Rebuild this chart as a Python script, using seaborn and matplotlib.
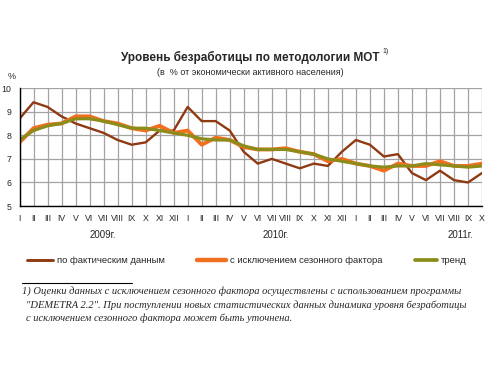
import pandas as pd
import matplotlib
matplotlib.use("Agg")
import matplotlib.pyplot as plt
import seaborn as sns

roman = ['I', 'II', 'III', 'IV', 'V', 'VI', 'VII', 'VIII', 'IX', 'X', 'XI', 'XII']
month_labels = roman * 2 + roman[:10]
years = ['2009г.', '2010г.', '2011г.']

actual = [8.7, 9.4, 9.2, 8.8, 8.5, 8.3, 8.1, 7.8, 7.6, 7.7, 8.2, 8.2,
          9.2, 8.6, 8.6, 8.2, 7.3, 6.8, 7.0, 6.8, 6.6, 6.8, 6.7, 7.3,
          7.8, 7.6, 7.1, 7.2, 6.4, 6.1, 6.5, 6.1, 6.0, 6.4]
seasonal = [7.7, 8.3, 8.45, 8.5, 8.8, 8.8, 8.6, 8.5, 8.3, 8.2, 8.4, 8.1,
            8.2, 7.6, 7.9, 7.8, 7.5, 7.4, 7.4, 7.45, 7.3, 7.2, 6.9, 7.0,
            6.8, 6.7, 6.5, 6.8, 6.7, 6.7, 6.9, 6.7, 6.7, 6.8]
trend = [7.8, 8.2, 8.4, 8.5, 8.7, 8.7, 8.6, 8.45, 8.3, 8.3, 8.2, 8.1,
         8.0, 7.85, 7.8, 7.8, 7.55, 7.4, 7.4, 7.4, 7.3, 7.2, 7.0, 6.9,
         6.8, 6.7, 6.65, 6.7, 6.7, 6.8, 6.75, 6.7, 6.65, 6.7]

names = ['по фактическим данным', 'с исключением сезонного фактора', 'тренд']
colors = ['#8f3a12', '#f07020', '#8c8c1a']
widths = [1.7, 2.8, 2.3]

df = pd.DataFrame({'idx': list(range(len(actual))) * 3,
                   'value': actual + seasonal + trend,
                   'series': [names[0]] * len(actual) + [names[1]] * len(seasonal) + [names[2]] * len(trend)})

sns.set_style("white")
plt.rcParams['font.family'] = ['Liberation Sans', 'DejaVu Sans']

fig = plt.figure(figsize=(5, 3.7), dpi=100)
ax = fig.add_axes([0.039, 0.443, 0.925, 0.319])

for name, c, w in zip(names, colors, widths):
    sub = df[df['series'] == name]
    sns.lineplot(data=sub, x='idx', y='value', ax=ax, color=c, linewidth=w, legend=False)

ax.set_xlim(0, len(actual) - 1)
ax.set_ylim(5, 10)
ax.set_xticks(range(len(actual)))
ax.set_xticklabels(month_labels, fontsize=6.3)
ax.set_yticks(range(5, 11))
ax.set_yticklabels([str(v) for v in range(5, 11)], fontsize=6.3)
ax.set_xlabel('')
ax.set_ylabel('')
ax.grid(True, color='#a3a3a3', linewidth=0.9)
for s in ['top', 'right']:
    ax.spines[s].set_visible(False)
for s in ['left', 'bottom']:
    ax.spines[s].set_color('black')
    ax.spines[s].set_linewidth(1.0)
ax.tick_params(axis='both', length=3, width=0.8, color='black', pad=3)

fig.text(0.5, 0.845, 'Уровень безработицы по методологии МОТ', ha='center', va='center',
         fontsize=8.5, fontweight='bold')
fig.text(0.765, 0.862, '1)', ha='left', va='center', fontsize=5)
fig.text(0.5, 0.805, '(в  % от экономически активного населения)', ha='center', va='center', fontsize=6.5)
fig.text(0.024, 0.792, '%', ha='center', va='center', fontsize=6.5)

for yr, xp in zip(years, [0.206, 0.552, 0.92]):
    fig.text(xp, 0.365, yr, ha='center', va='center', fontsize=7)

leg_pos = [(0.054, 0.106), (0.394, 0.452), (0.83, 0.874)]
for (x0, x1), name, c, w in zip(leg_pos, names, colors, widths):
    fig.add_artist(plt.Line2D([x0, x1], [0.297, 0.297], color=c, linewidth=w + 0.4))
    fig.text(x1 + 0.008, 0.297, name, ha='left', va='center', fontsize=6.8)

fig.add_artist(plt.Line2D([0.044, 0.264], [0.235, 0.235], color='black', linewidth=0.8))
foot = ['1) Оценки данных с исключением сезонного фактора осуществлены с использованием программы',
        '"DEMETRA 2.2". При поступлении новых статистических данных динамика уровня безработицы',
        'с исключением сезонного фактора может быть уточнена.']
for i, line in enumerate(foot):
    fig.text(0.044 if i == 0 else 0.052, 0.213 - i * 0.037, line, ha='left', va='center',
             fontsize=7.6, style='italic', family=['Liberation Serif', 'DejaVu Serif'])

fig.savefig('out.png', dpi=100, facecolor='white')
